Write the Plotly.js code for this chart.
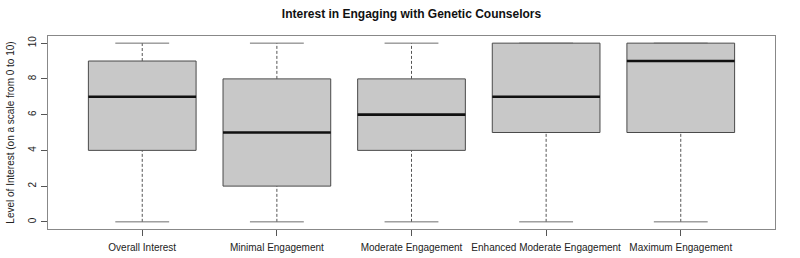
<!DOCTYPE html>
<html>
<head>
<meta charset="utf-8">
<script src="https://cdn.plot.ly/plotly-3.0.1.min.js"></script>
<style>
html,body{margin:0;padding:0;background:#fff;}
#chart{width:800px;height:258px;}
</style>
</head>
<body>
<div id="chart"></div>
<script>
const categories = ["Overall Interest", "Minimal Engagement", "Moderate Engagement", "Enhanced Moderate Engagement", "Maximum Engagement"];
const minVals = [0, 0, 0, 0, 0];
const q1Vals = [4, 2, 4, 5, 5];
const medianVals = [7, 5, 6, 7, 9];
const q3Vals = [9, 8, 8, 10, 10];
const maxVals = [10, 10, 10, 10, 10];
const yTicks = [0, 2, 4, 6, 8, 10];

const pos = categories.map((c, i) => i + 1);
const boxHalf = 0.4;
const capHalf = 0.2;

const boxTrace = {
  type: 'box',
  x: pos,
  q1: q1Vals,
  median: medianVals,
  q3: q3Vals,
  lowerfence: q1Vals,
  upperfence: q3Vals,
  width: 2 * boxHalf,
  whiskerwidth: 0,
  fillcolor: '#c8c8c8',
  line: {color: '#4a4a4a', width: 1},
  boxpoints: false,
  hoverinfo: 'skip',
  showlegend: false
};

const wx = [], wy = [];
pos.forEach((p, i) => {
  wx.push(p, p, null, p, p, null);
  wy.push(minVals[i], q1Vals[i], null, q3Vals[i], maxVals[i], null);
});
const whiskerTrace = {
  type: 'scatter', mode: 'lines', x: wx, y: wy,
  line: {color: '#555', width: 1, dash: '3px,2px'},
  hoverinfo: 'skip', showlegend: false
};

const cx = [], cy = [];
pos.forEach((p, i) => {
  cx.push(p - capHalf, p + capHalf, null, p - capHalf, p + capHalf, null);
  cy.push(minVals[i], minVals[i], null, maxVals[i], maxVals[i], null);
});
const capTrace = {
  type: 'scatter', mode: 'lines', x: cx, y: cy,
  line: {color: '#6e6e6e', width: 1},
  hoverinfo: 'skip', showlegend: false
};

const mx = [], my = [];
pos.forEach((p, i) => {
  mx.push(p - boxHalf, p + boxHalf, null);
  my.push(medianVals[i], medianVals[i], null);
});
const medianTrace = {
  type: 'scatter', mode: 'lines', x: mx, y: my,
  line: {color: '#111', width: 2.6},
  hoverinfo: 'skip', showlegend: false
};

const layout = {
  width: 800, height: 258,
  margin: {l: 48, r: 25, t: 36, b: 29},
  paper_bgcolor: '#fff', plot_bgcolor: '#fff',
  font: {family: 'Liberation Sans, Arial, sans-serif', color: '#222'},
  title: {
    text: '<b>Interest in Engaging with Genetic Counselors</b>',
    font: {size: 12, color: '#111'},
    x: 0.5, xref: 'paper', y: 0.945, yref: 'container', yanchor: 'middle'
  },
  xaxis: {
    range: [0.3, 5.7],
    tickmode: 'array', tickvals: pos, ticktext: categories,
    ticks: 'outside', ticklen: 6, tickcolor: '#555', tickwidth: 1,
    ticklabelstandoff: 3,
    tickfont: {size: 10, color: '#222'},
    showgrid: false, zeroline: false,
    showline: true, linecolor: '#888', linewidth: 1, mirror: true
  },
  yaxis: {
    range: [-0.4, 10.4],
    tickmode: 'array', tickvals: yTicks, ticktext: yTicks.map(String),
    tickangle: -90,
    ticks: 'outside', ticklen: 6, tickcolor: '#555', tickwidth: 1,
    ticklabelstandoff: 1,
    tickfont: {size: 10, color: '#222'},
    showgrid: false, zeroline: false,
    showline: true, linecolor: '#888', linewidth: 1, mirror: true,
    title: {text: 'Level of Interest (on a scale from 0 to 10)', font: {size: 10, color: '#222'}, standoff: 10}
  }
};

Plotly.newPlot('chart', [boxTrace, whiskerTrace, capTrace, medianTrace], layout, {displayModeBar: false, staticPlot: true});
</script>
</body>
</html>
